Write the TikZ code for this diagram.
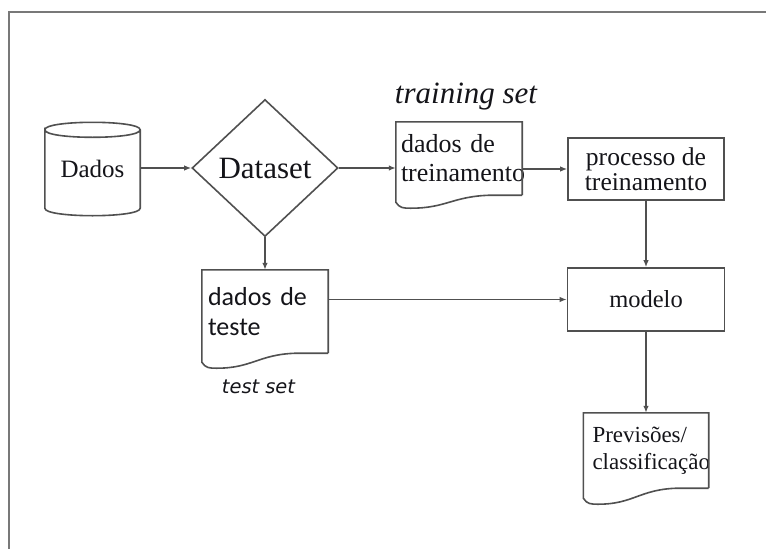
\documentclass[tikz,border=0pt]{standalone}
\usepackage{fontspec}
\setmainfont{Liberation Serif}
\newfontfamily\carl{Carlito}
\newfontfamily\dvs{DejaVu Sans}
\usetikzlibrary{shapes.geometric,arrows.meta,calc}
\definecolor{linegray}{RGB}{80,80,80}
\definecolor{framegray}{RGB}{120,120,120}
\definecolor{textcol}{RGB}{20,20,25}
\tikzset{
  shapeline/.style={draw=linegray, line width=1.6pt},
  arr/.style={draw=linegray, line width=1.6pt, -{Latex[length=7pt,width=5.5pt]}},
  boxnode/.style={shapeline, rectangle, inner sep=0pt, align=center, text=textcol},
  docnode/.style={rectangle, inner ysep=0pt, align=left, text=textcol},
}
\newcommand{\docoutline}[2]{%
  \draw[shapeline] (#1.south east) -- (#1.north east) -- (#1.north west)
    -- ($(#1.south west)+(0,#2-6)$)
    .. controls ($(#1.south west)!0.03!(#1.south east)+(0,#2)$) and ($(#1.south west)!0.06!(#1.south east)+(0,#2)$)
    .. ($(#1.south west)!0.12!(#1.south east)+(0,#2)$)
    .. controls ($(#1.south west)!0.40!(#1.south east)+(0,#2)$) and ($(#1.south west)!0.45!(#1.south east)+(0,1)$)
    .. ($(#1.south west)!0.75!(#1.south east)$) -- (#1.south east);}
\begin{document}
\begin{tikzpicture}[x=1pt,y=-1pt]
\useasboundingbox (0,0) rectangle (766,549);
% frame (top and left edges only)
\draw[draw=framegray, line width=2.8pt] (9,549) -- (9,12) -- (766,12);

% Dados cylinder
\node[inner sep=0pt, minimum width=95pt, minimum height=93pt, text=textcol,
      font=\fontsize{25}{28}\selectfont] (dados) at (92.5,169) {Dados};
\draw[shapeline] ($(dados.north west)+(0,7.5)$)
   .. controls ($(dados.north west)+(0,-2.5)$) and ($(dados.north east)+(0,-2.5)$) .. ($(dados.north east)+(0,7.5)$)
   .. controls ($(dados.north east)+(0,17.5)$) and ($(dados.north west)+(0,17.5)$) .. ($(dados.north west)+(0,7.5)$)
   -- ($(dados.south west)+(0,-7.5)$)
   .. controls ($(dados.south west)+(0,2.5)$) and ($(dados.south east)+(0,2.5)$) .. ($(dados.south east)+(0,-7.5)$)
   -- ($(dados.north east)+(0,7.5)$);

% Dataset diamond
\node[shapeline, diamond, inner sep=0pt, minimum width=146pt, minimum height=137pt,
      text=textcol, font=\fontsize{31}{34}\selectfont] (dataset) at (265,168) {Dataset};

% training document
\node[docnode, inner xsep=5pt, text width=116pt, minimum height=73pt,
      font=\fontsize{26}{29}\selectfont] (train) at (459,158.5) {dados de\\treinamento};
\docoutline{train}{13}
\node[text=textcol, inner sep=0pt, font=\fontsize{31}{34}\selectfont\itshape] (trainlbl) at (466,97) {training set};

% processo de treinamento
\node[boxnode, minimum width=156pt, minimum height=62pt,
      font=\fontsize{25.6}{25}\selectfont] (proc) at (646,169) {processo de\\treinamento};

% modelo
\node[boxnode, minimum width=157pt, minimum height=63pt,
      font=\fontsize{24.5}{27}\selectfont] (modelo) at (646,299.5) {modelo};

% test document
\node[docnode, inner xsep=6pt, text width=114pt, minimum height=83pt,
      font=\carl\fontsize{26}{30}\selectfont] (teste) at (265,311.5) {dados de\\teste};
\docoutline{teste}{15}
\node[text=textcol, inner sep=0pt, font=\dvs\fontsize{19.4}{22}\selectfont\itshape] (testlbl) at (258.5,387) {test set};

% previsoes document
\node[docnode, inner xsep=9pt, text width=107pt, minimum height=75pt,
      font=\fontsize{23}{27}\selectfont] (prev) at (646,450.5) {Previsões/\\classificação};
\docoutline{prev}{16}

% connectors
\draw[arr] (dados.east |- dataset.west) -- (dataset.west);
\draw[arr] (dataset.east) -- (dataset.east -| train.west);
\draw[arr] (proc.west -| train.east) -- (proc.west);
\draw[arr] (dataset.south) -- (teste.north);
\draw[arr] (proc.south) -- (modelo.north);
\draw[arr] (modelo.west -| teste.east) -- (modelo.west);
\draw[arr] (modelo.south) -- (prev.north);
\end{tikzpicture}
\end{document}
